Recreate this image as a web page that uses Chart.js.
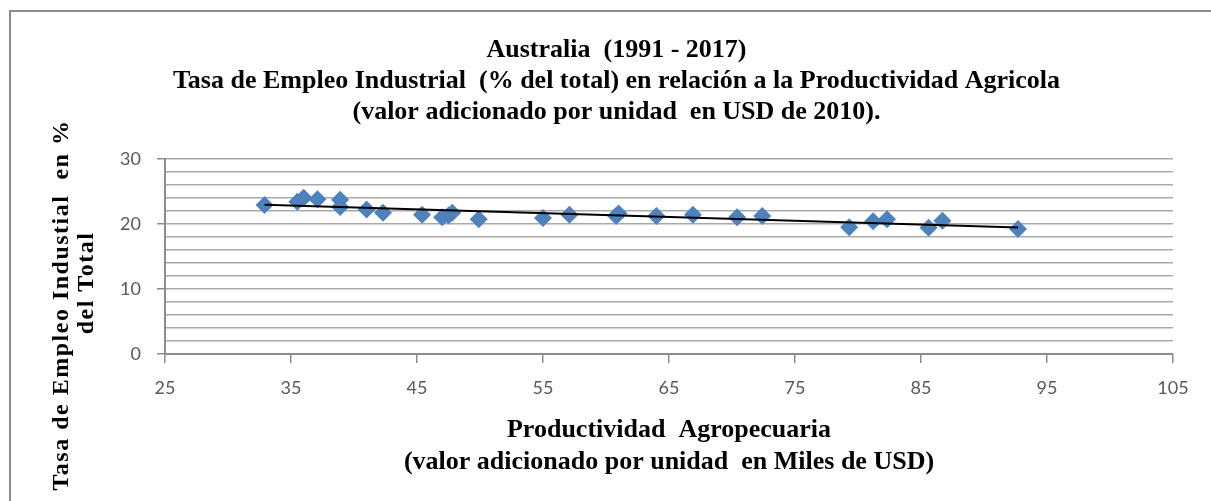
<!DOCTYPE html>
<html>
<head>
<meta charset="utf-8">
<script src="https://cdn.jsdelivr.net/npm/chart.js@4.4.0/dist/chart.umd.min.js"></script>
<style>
  html, body { margin: 0; padding: 0; background: #fff; }
</style>
</head>
<body>
<canvas id="chart" width="1211" height="501"></canvas>
<script>
// Values (Australia 1991 - 2017)
const productividad = [32.9, 35.5, 36.0, 37.1, 38.9, 38.9, 41.0, 42.3, 45.4, 47.0, 47.5, 47.8, 49.9,
                       55.0, 57.1, 60.8, 61.0, 64.0, 66.9, 70.4, 72.4, 79.3, 81.2, 82.3, 85.6, 86.7, 92.7];
const empleo = [22.9, 23.4, 24.0, 23.8, 23.7, 22.6, 22.2, 21.7, 21.4, 21.0, 21.3, 21.7, 20.7,
                20.9, 21.4, 21.2, 21.6, 21.2, 21.4, 21.0, 21.2, 19.5, 20.4, 20.7, 19.4, 20.5, 19.2];
const xTicks = [25, 35, 45, 55, 65, 75, 85, 95, 105];
const yLabels = [0, 10, 20, 30];

const chartTitle = [
    'Australia  (1991 - 2017)',
    'Tasa de Empleo Industrial  (% del total) en relación a la Productividad Agricola',
    '(valor adicionado por unidad  en USD de 2010).'
];
const xTitle = ['Productividad  Agropecuaria', '(valor adicionado por unidad  en Miles de USD)'];
const yTitle = ['Tasa de Empleo Industial  en %', 'del Total'];

// Linear trend (least squares), like the spreadsheet trendline
function trendLine(xs, ys) {
    const n = xs.length;
    const mx = xs.reduce((a, b) => a + b, 0) / n;
    const my = ys.reduce((a, b) => a + b, 0) / n;
    let sxy = 0, sxx = 0;
    xs.forEach((x, i) => { sxy += (x - mx) * (ys[i] - my); sxx += (x - mx) * (x - mx); });
    const slope = sxy / sxx;
    const x0 = Math.min(...xs), x1 = Math.max(...xs);
    return [{x: x0, y: my + slope * (x0 - mx)}, {x: x1, y: my + slope * (x1 - mx)}];
}

const serif = '"Liberation Serif", "Times New Roman", serif';
const sans = 'Lato, "Liberation Sans", sans-serif';

// Outer frame and the vertical axis title
const extras = {
    id: 'extras',
    afterDraw(chart) {
        const ctx = chart.ctx;
        ctx.save();
        ctx.strokeStyle = '#8c8c8c';
        ctx.lineWidth = 2;
        ctx.beginPath();
        ctx.moveTo(10, 501);
        ctx.lineTo(10, 11);
        ctx.lineTo(1211, 11);
        ctx.stroke();

        ctx.fillStyle = '#000';
        ctx.font = 'bold 24px ' + serif;
        ctx.textAlign = 'center';
        ctx.textBaseline = 'middle';
        ctx.letterSpacing = '1.5px';
        ctx.translate(62, 305);
        ctx.rotate(-Math.PI / 2);
        ctx.fillText(yTitle[0], 0, 0);
        ctx.fillText(yTitle[1], 22, 25);
        ctx.restore();
    }
};

new Chart(document.getElementById('chart'), {
    type: 'scatter',
    data: {
        datasets: [{
            label: 'Tendencia',
            data: trendLine(productividad, empleo),
            showLine: true,
            borderColor: '#000',
            borderWidth: 2,
            pointRadius: 0,
            order: 0
        }, {
            label: 'Australia',
            data: productividad.map((x, i) => ({x: x, y: empleo[i]})),
            pointStyle: 'rectRot',
            pointRadius: 9,
            pointHoverRadius: 9,
            backgroundColor: '#4f81bd',
            borderColor: '#4f81bd',
            borderWidth: 0,
            order: 1
        }]
    },
    options: {
        responsive: false,
        animation: false,
        layout: { padding: { left: 60, right: 38, top: 0, bottom: 0 } },
        plugins: {
            legend: { display: false },
            tooltip: { enabled: false },
            title: {
                display: true,
                text: chartTitle,
                color: '#000',
                font: { family: serif, size: 26, weight: 'bold', lineHeight: 1.19 },
                padding: { top: 34.5, bottom: 31.5 }
            }
        },
        scales: {
            x: {
                type: 'linear',
                min: 25,
                max: 105,
                afterBuildTicks: scale => { scale.ticks = xTicks.map(v => ({value: v})); },
                afterFit: scale => { scale.height = 147; },
                ticks: {
                    color: '#595959',
                    font: { family: sans, size: 18 },
                    padding: 14,
                    autoSkip: false,
                    maxRotation: 0
                },
                grid: {
                    drawOnChartArea: false,
                    color: '#8c8c8c',
                    tickLength: 9,
                    lineWidth: 1.5
                },
                border: { color: '#8c8c8c', width: 2 },
                title: {
                    display: true,
                    text: xTitle,
                    color: '#000',
                    font: { family: serif, size: 26, weight: 'bold', lineHeight: 1.23 },
                    padding: { top: 10, bottom: 23 }
                }
            },
            y: {
                min: 0,
                max: 30,
                afterFit: scale => { scale.width = 105; },
                ticks: {
                    stepSize: 2,
                    autoSkip: false,
                    color: '#595959',
                    font: { family: sans, size: 18 },
                    padding: 16,
                    callback: v => yLabels.includes(v) ? v : ''
                },
                grid: {
                    color: '#a9a9a9',
                    lineWidth: 1.5,
                    tickLength: 8,
                    tickColor: c => (c.tick && yLabels.includes(c.tick.value)) ? '#8c8c8c' : 'rgba(0,0,0,0)'
                },
                border: { color: '#8c8c8c', width: 2 }
            }
        }
    },
    plugins: [extras]
});
</script>
</body>
</html>
